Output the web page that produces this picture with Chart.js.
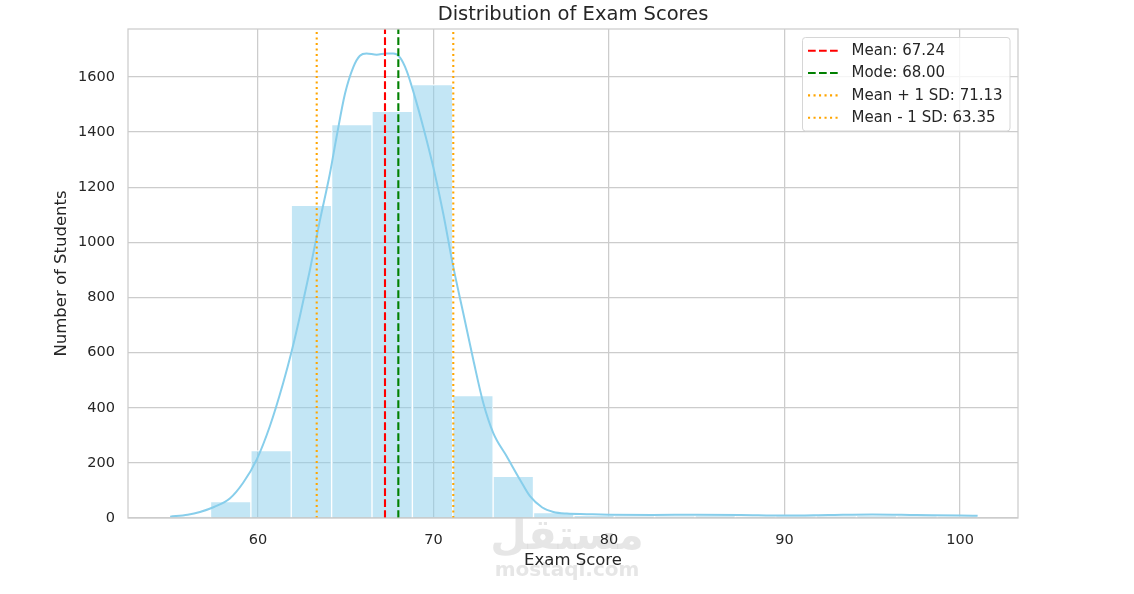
<!DOCTYPE html>
<html>
<head>
<meta charset="utf-8">
<script src="https://cdn.jsdelivr.net/npm/chart.js@4.4.1/dist/chart.umd.min.js"></script>
<style>
html,body{margin:0;padding:0;background:#fff;}
#wrap{width:1134px;height:594px;position:relative;}
</style>
</head>
<body>
<div id="wrap"><canvas id="c" width="1134" height="594"></canvas></div>
<script>
// ---- data ----
const binLeftEdges = [55.0, 57.3, 59.6, 61.9, 64.2, 66.5, 68.8, 71.1, 73.4, 75.7, 78.0, 80.3, 82.6, 84.9, 87.2, 89.5, 91.8, 94.1, 96.4, 98.7];
const binWidth = 2.3;
const binCounts = [4, 60, 245, 1134, 1427, 1475, 1572, 444, 151, 20, 9, 7, 6, 8, 5, 6, 7, 8, 6, 5];

const kdeX = [55.0, 56.0, 56.7, 57.5, 58.4, 59.16, 59.93, 60.68, 61.44, 61.92, 62.39, 62.96, 63.53, 64.10, 64.48, 64.96, 65.43, 65.81, 66.19, 66.76, 67.33, 67.71, 68.09, 68.47, 68.95, 69.42, 69.99, 70.56, 71.13, 71.70, 72.27, 72.84, 73.41, 74.17, 74.93, 75.50, 76.2, 76.83, 77.6, 78.73, 80.0, 82.5, 85.0, 87.5, 90.0, 92.5, 95.0, 97.5, 100.0, 101.0];
const kdeY = [5, 12, 22, 40, 71, 128, 212, 333, 490, 604, 731, 899, 1079, 1249, 1382, 1539, 1635, 1677, 1685, 1681, 1685, 1685, 1671, 1623, 1526, 1418, 1273, 1104, 911, 743, 574, 417, 308, 224, 139, 79, 38, 22, 16, 14, 12, 11, 12, 11, 9, 11, 13, 11, 9, 8];

const refLabels = ["Mean: 67.24", "Mode: 68.00", "Mean + 1 SD: 71.13", "Mean - 1 SD: 63.35"];
const refValues = [67.24, 68.00, 71.13, 63.35];
const refColors = ["#ff0000", "#008000", "#ffa500", "#ffa500"];
const refDashes = [[7.7, 3.3], [7.7, 3.3], [2.1, 3.4], [2.1, 3.4]];

const xTicks = [60, 70, 80, 90, 100];
const yTicks = [0, 200, 400, 600, 800, 1000, 1200, 1400, 1600];

const chartTitle = 'Distribution of Exam Scores';
const X_MIN = 52.6, X_MAX = 103.3, Y_MIN = 0, Y_MAX = 1774;
const FONT = "'DejaVu Sans', sans-serif";
const TXT = "#262626";

// ---- datasets ----
const histData = binLeftEdges.map((e, i) => ({x: e + binWidth / 2, y: binCounts[i]}));
const kdeData = kdeX.map((x, i) => ({x: x, y: kdeY[i]}));

const datasets = [];
refValues.forEach((v, i) => {
  datasets.push({
    type: 'line', label: refLabels[i],
    data: [{x: v, y: Y_MIN}, {x: v, y: Y_MAX}],
    borderColor: refColors[i], borderWidth: 2.1, borderDash: refDashes[i],
    pointRadius: 0, fill: false, order: 1
  });
});
datasets.push({
  type: 'line', label: 'kde', data: kdeData,
  borderColor: '#87ceeb', borderWidth: 2, pointRadius: 0,
  cubicInterpolationMode: 'monotone', fill: false, order: 2
});
datasets.push({
  type: 'bar', label: 'hist', data: histData,
  backgroundColor: 'rgba(135,206,235,0.5)', borderColor: '#ffffff', borderWidth: 1,
  barPercentage: 1.0, categoryPercentage: 1.0, grouped: false, order: 3
});

const decor = {
  id: 'decor',
  beforeDraw(chart) {
    const ctx = chart.ctx;
    ctx.save();
    ctx.fillStyle = '#ffffff';
    ctx.fillRect(0, 0, chart.width, chart.height);
    // faint watermark
    ctx.fillStyle = 'rgba(205,205,205,0.5)';
    ctx.textAlign = 'center';
    ctx.textBaseline = 'middle';
    ctx.font = "bold 42px 'DejaVu Sans', sans-serif";
    ctx.fillText('مستقل', 567, 538);
    ctx.font = "bold 20px 'DejaVu Sans', sans-serif";
    ctx.fillText('mostaqi.com', 567, 571);
    ctx.restore();
  },
  afterDatasetsDraw(chart) {
    const {ctx, chartArea: a} = chart;
    ctx.save();
    ctx.strokeStyle = '#cccccc';
    ctx.lineWidth = 1.25;
    ctx.strokeRect(a.left, a.top, a.right - a.left, a.bottom - a.top);
    ctx.restore();
  },
  afterDraw(chart) {
    const {ctx, chartArea: a} = chart;
    ctx.save();
    // title centred over the plot area
    ctx.fillStyle = TXT;
    ctx.font = "19.5px " + FONT;
    ctx.textAlign = 'center';
    ctx.textBaseline = 'middle';
    ctx.fillText(chartTitle, (a.left + a.right) / 2, 15);
    // legend
    const bx = 802.5, by = 37.5, bw = 207.5, bh = 93.5, r = 3;
    ctx.beginPath();
    ctx.moveTo(bx + r, by);
    ctx.arcTo(bx + bw, by, bx + bw, by + bh, r);
    ctx.arcTo(bx + bw, by + bh, bx, by + bh, r);
    ctx.arcTo(bx, by + bh, bx, by, r);
    ctx.arcTo(bx, by, bx + bw, by, r);
    ctx.closePath();
    ctx.fillStyle = 'rgba(255,255,255,0.8)';
    ctx.fill();
    ctx.strokeStyle = '#d6d6d6';
    ctx.lineWidth = 1;
    ctx.stroke();
    ctx.font = "15px " + FONT;
    ctx.textBaseline = 'middle';
    ctx.textAlign = 'left';
    refLabels.forEach((lab, i) => {
      const y = 50.7 + i * 22.35;
      ctx.beginPath();
      ctx.setLineDash(refDashes[i]);
      ctx.strokeStyle = refColors[i];
      ctx.lineWidth = 2.1;
      ctx.moveTo(808, y);
      ctx.lineTo(838.5, y);
      ctx.stroke();
      ctx.setLineDash([]);
      ctx.fillStyle = TXT;
      ctx.fillText(lab, 851.5, y + 0.5);
    });
    ctx.restore();
  }
};

new Chart(document.getElementById('c'), {
  data: {datasets: datasets},
  plugins: [decor],
  options: {
    responsive: false,
    animation: false,
    devicePixelRatio: 1,
    layout: {padding: {left: 0, right: 116, top: 29, bottom: 0}},
    plugins: {
      legend: {display: false},
      tooltip: {enabled: false},
      title: {display: false}
    },
    scales: {
      x: {
        type: 'linear', min: X_MIN, max: X_MAX, offset: false,
        afterFit(s) { s.height = 76; },
        afterBuildTicks(s) { s.ticks = xTicks.map(v => ({value: v})); },
        grid: {color: '#cccccc', lineWidth: 1.25, drawTicks: false, offset: false},
        border: {display: false},
        ticks: {color: TXT, font: {family: FONT, size: 14.5}, padding: 14, maxRotation: 0,
                callback: v => String(v)},
        title: {display: true, text: 'Exam Score', color: TXT, font: {family: FONT, size: 16.5}, padding: {top: 0, bottom: 23}}
      },
      y: {
        type: 'linear', min: Y_MIN, max: Y_MAX,
        afterFit(s) { s.width = 128; },
        afterBuildTicks(s) { s.ticks = yTicks.map(v => ({value: v})); },
        grid: {color: '#cccccc', lineWidth: 1.25, drawTicks: false, offset: false},
        border: {display: false},
        ticks: {color: TXT, font: {family: FONT, size: 14.5}, padding: 13,
                callback: v => String(v)},
        title: {display: true, text: 'Number of Students', color: TXT, font: {family: FONT, size: 16.5}, padding: {top: 52, bottom: 0}}
      }
    }
  }
});
</script>
</body>
</html>
